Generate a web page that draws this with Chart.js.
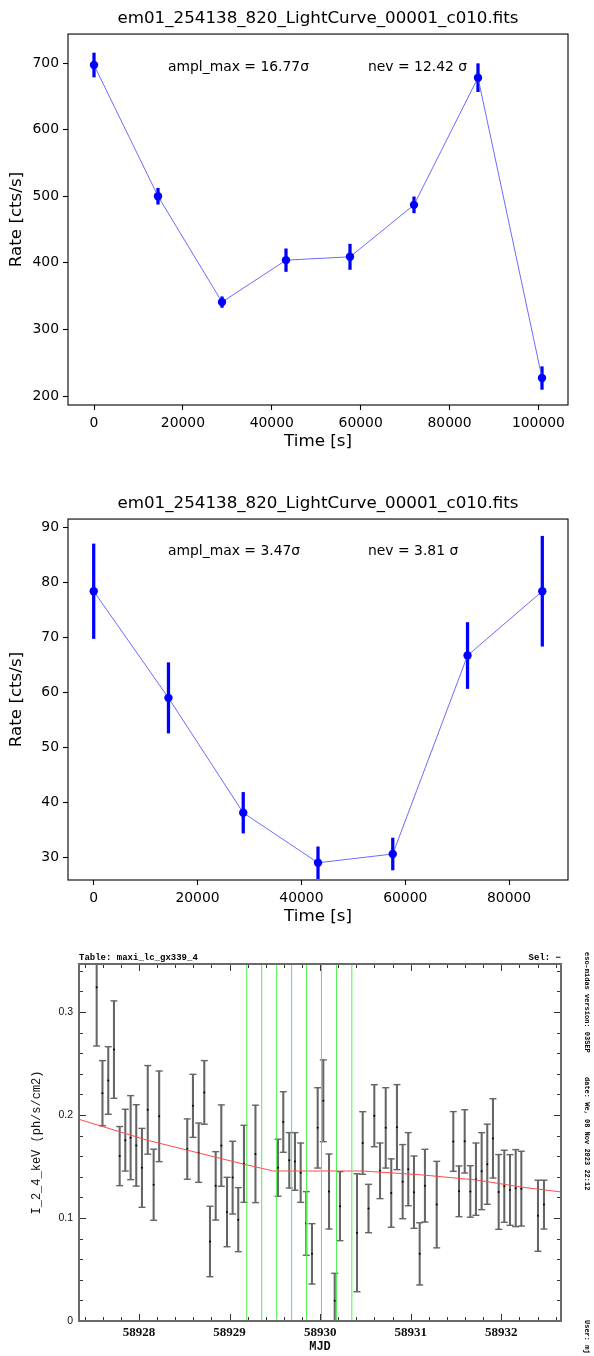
<!DOCTYPE html>
<html><head><meta charset="utf-8">
<script src="https://cdn.jsdelivr.net/npm/chart.js@4.4.1/dist/chart.umd.min.js"></script>
<style>
html,body{margin:0;padding:0;background:#fff}
body{width:594px;height:1356px;position:relative;overflow:hidden}
canvas{position:absolute;left:0}
</style></head><body>
<canvas id="c1" width="594" height="460" style="top:0px;width:594px;height:460px"></canvas>
<canvas id="c2" width="594" height="450" style="top:485px;width:594px;height:450px"></canvas>
<canvas id="c3" width="594" height="416" style="top:940px;width:594px;height:416px"></canvas>
<script>
// ---------------- data ----------------
const fitsTitle = 'em01_254138_820_LightCurve_00001_c010.fits';
const timeTop = [0, 14400, 28800, 43200, 57600, 72000, 86400, 100800];
const rateTop = [697, 500, 341, 404, 409, 487, 678, 227];
const errTop  = [18, 12, 8, 17, 19, 12, 21, 17];
const notesTop = ['ampl_max = 16.77\u03c3', 'nev = 12.42 \u03c3'];
const xTicksTop = [0, 20000, 40000, 60000, 80000, 100000];
const yTicksTop = [200, 300, 400, 500, 600, 700];

const timeMid = [0, 14400, 28800, 43200, 57600, 72000, 86400];
const rateMid = [78.4, 59.0, 38.1, 29.0, 30.6, 66.7, 78.4];
const errMid  = [8.6, 6.4, 3.7, 2.9, 2.9, 6.0, 10.0];
const notesMid = ['ampl_max = 3.47\u03c3', 'nev = 3.81 \u03c3'];
const xTicksMid = [0, 20000, 40000, 60000, 80000];
const yTicksMid = [30, 40, 50, 60, 70, 80, 90];

const mjd = [58927.533,58927.597,58927.661,58927.724,58927.787,58927.849,58927.908,58927.970,58928.033,58928.097,58928.162,58928.223,
  58928.533,58928.596,58928.659,58928.721,58928.784,58928.847,58928.909,58928.972,58929.034,58929.096,58929.159,58929.286,
  58929.535,58929.593,58929.659,58929.722,58929.785,58929.847,58929.910,58929.973,58930.035,58930.098,58930.161,58930.219,
  58930.407,58930.470,58930.534,58930.598,58930.661,58930.724,58930.785,58930.848,58930.911,58930.973,58931.036,58931.099,58931.157,
  58931.287,58931.470,58931.533,58931.596,58931.658,58931.720,58931.783,58931.845,58931.908,58931.971,58932.033,58932.096,58932.159,58932.221,
  58932.405,58932.471];
const flux = [0.324,0.2212,0.2335,0.2635,0.1601,0.1756,0.178,0.1705,0.1487,0.205,0.1323,0.1987,
  0.1669,0.2089,0.1634,0.2219,0.0772,0.1312,0.1703,0.1058,0.1392,0.0984,0.1526,0.1622,
  0.1488,0.1932,0.156,0.1549,0.144,0.0947,0.0652,0.1875,0.2138,0.1257,0.0197,0.1115,
  0.0857,0.1728,0.1092,0.1993,0.1458,0.1875,0.1242,0.1882,0.1353,0.1474,0.1251,0.0652,0.1314,
  0.113,0.1743,0.1259,0.1744,0.1258,0.1377,0.1455,0.1522,0.1773,0.1253,0.1308,0.1272,0.129,0.1285,
  0.1022,0.113];
const fluxErr = [0.057,0.0316,0.0328,0.0473,0.0287,0.030,0.0408,0.0395,0.0383,0.043,0.0345,0.044,
  0.0293,0.0306,0.0288,0.0309,0.0342,0.0332,0.0395,0.0337,0.0353,0.0311,0.0374,0.0473,
  0.0277,0.0294,0.0269,0.028,0.0288,0.0309,0.0293,0.039,0.0397,0.0364,0.0266,0.0335,
  0.0573,0.0304,0.0235,0.0301,0.027,0.039,0.0332,0.0413,0.036,0.0355,0.0351,0.0302,0.0353,
  0.042,0.029,0.0246,0.0307,0.025,0.0351,0.0374,0.0389,0.0385,0.0363,0.035,0.0343,0.0374,0.0363,
  0.0345,0.0237];
const trendMjd  = [58927.338, 58928.085, 58928.527, 58929.151, 58929.483, 58930.473, 58931.102, 58931.728, 58932.239, 58932.667];
const trendFlux = [0.1958, 0.1757, 0.1660, 0.1524, 0.1456, 0.1456, 0.1420, 0.1369, 0.1298, 0.1252];
const greenMjd  = [58929.190, 58929.355, 58929.520, 58929.685, 58929.850, 58930.015, 58930.180, 58930.350];
const xTicksBot = [58928, 58929, 58930, 58931, 58932];
const yTicksBot = [0, 0.1, 0.2, 0.3];

// ---------------- helpers ----------------
Chart.defaults.font.family = '"DejaVu Sans", sans-serif';
Chart.defaults.color = '#000';
Chart.defaults.animation = false;

const mplDeco = {
  id: 'mplDeco',
  afterDatasetsDraw(chart, args, opts) {
    const {ctx, chartArea: a} = chart;
    ctx.save();
    ctx.font = '13.9px "DejaVu Sans"';
    ctx.fillStyle = '#000';
    ctx.textBaseline = 'alphabetic';
    (opts.items || []).forEach(it => {
      ctx.fillText(it.text, a.left + it.fx * (a.right - a.left), a.bottom - it.fy * (a.bottom - a.top));
    });
    ctx.strokeStyle = '#000';
    ctx.lineWidth = 1.1;
    ctx.strokeRect(a.left, a.top, a.right - a.left, a.bottom - a.top);
    ctx.restore();
  }
};

function mplChart(id, t, r, e, o) {
  return new Chart(document.getElementById(id), {
    type: 'line',
    data: {
      datasets: [
        { type: 'line', data: t.map((x, i) => ({x: x, y: r[i]})), borderColor: '#6b6bff', borderWidth: 1,
          pointRadius: 4.2, pointBackgroundColor: '#0000ff', pointBorderColor: '#0000ff', pointBorderWidth: 0,
          tension: 0, order: 0 },
        { type: 'bar', data: t.map((x, i) => ({x: x, y: [r[i] - e[i], r[i] + e[i]]})),
          backgroundColor: '#0000ff', barThickness: 2.6, borderWidth: 0, order: 1 }
      ]
    },
    options: {
      responsive: false,
      animation: false,
      layout: { padding: { left: 0, right: 26, top: 0, bottom: 0 }, autoPadding: false },
      plugins: {
        legend: { display: false },
        tooltip: { enabled: false },
        title: { display: true, fullSize: false, text: fitsTitle, font: { size: 16.7, weight: 'normal' }, color: '#000',
                 padding: { top: 9, bottom: 5 } },
        mplDeco: { items: [{text: o.notes[0], fx: 0.2, fy: 0.9}, {text: o.notes[1], fx: 0.6, fy: 0.9}] }
      },
      scales: {
        x: {
          type: 'linear', min: o.xmin, max: o.xmax, offset: false,
          afterBuildTicks: s => { s.ticks = o.xTicks.map(v => ({value: v})); },
          afterFit: s => { s.height = o.xh; },
          ticks: { callback: v => String(v), font: { size: 13.9 }, color: '#000', padding: 5, maxRotation: 0, autoSkip: false },
          grid: { display: true, offset: false, drawOnChartArea: false, drawTicks: true, tickLength: 5, tickColor: '#000', tickWidth: 1.1 },
          border: { display: false },
          title: { display: true, text: 'Time [s]', font: { size: 16.7 }, color: '#000', padding: { top: 0, bottom: 8 } }
        },
        y: {
          type: 'linear', min: o.ymin, max: o.ymax,
          afterBuildTicks: s => { s.ticks = o.yTicks.map(v => ({value: v})); },
          afterFit: s => { s.width = 68; },
          ticks: { callback: v => String(v), font: { size: 13.9 }, color: '#000', padding: 4, autoSkip: false },
          grid: { display: true, offset: false, drawOnChartArea: false, drawTicks: true, tickLength: 5, tickColor: '#000', tickWidth: 1.1 },
          border: { display: false },
          title: { display: true, text: 'Rate [cts/s]', font: { size: 16.7 }, color: '#000', padding: { top: 7, bottom: 0 } }
        }
      }
    },
    plugins: [mplDeco]
  });
}

mplChart('c1', timeTop, rateTop, errTop, { xmin: -5850, xmax: 106650, ymin: 186.5, ymax: 743.5, xh: 55,
  xTicks: xTicksTop, yTicks: yTicksTop, notes: notesTop });
mplChart('c2', timeMid, rateMid, errMid, { xmin: -4950, xmax: 91350, ymin: 25.87, ymax: 91.53, xh: 55,
  xTicks: xTicksMid, yTicks: yTicksMid, notes: notesMid });

// ---------------- bottom (MIDAS) chart ----------------
const midasDeco = {
  id: 'midasDeco',
  afterDraw(chart) {
    const {ctx, chartArea: a, scales: {x, y}} = chart;
    ctx.save();
    ctx.strokeStyle = '#333';
    ctx.lineWidth = 1;
    for (let k = Math.ceil(x.min * 5); k <= Math.floor(x.max * 5); k++) {
      const px = Math.round(x.getPixelForValue(k / 5)) + 0.5;
      const len = (k % 5 === 0) ? 7 : 4;
      ctx.beginPath();
      ctx.moveTo(px, a.bottom); ctx.lineTo(px, a.bottom - len);
      ctx.moveTo(px, a.top); ctx.lineTo(px, a.top + len);
      ctx.stroke();
    }
    for (let k = Math.ceil(y.min * 50); k <= Math.floor(y.max * 50); k++) {
      const py = Math.round(y.getPixelForValue(k / 50)) + 0.5;
      const len = (k % 5 === 0) ? 7 : 4;
      ctx.beginPath();
      ctx.moveTo(a.left, py); ctx.lineTo(a.left + len, py);
      ctx.moveTo(a.right, py); ctx.lineTo(a.right - len, py);
      ctx.stroke();
    }
    ctx.strokeStyle = '#6a6a6a';
    ctx.lineWidth = 2;
    ctx.strokeRect(a.left, a.top, a.right - a.left, a.bottom - a.top);
    // header texts
    ctx.fillStyle = '#000';
    ctx.font = 'bold 9px "Liberation Mono"';
    ctx.textBaseline = 'alphabetic';
    ctx.textAlign = 'left';
    ctx.fillText('Table: maxi_lc_gx339_4', a.left, a.top - 4);
    ctx.textAlign = 'right';
    ctx.fillText('Sel: \u2212', a.right, a.top - 4);
    // side texts
    ctx.font = 'bold 7px "Liberation Mono"';
    ctx.textAlign = 'left';
    ctx.textBaseline = 'middle';
    [['eso-midas version: 03SEP', 12], ['date: We, 08 Nov 2023 22:12', 137], ['User: mj', 380]].forEach(([s, yy]) => {
      ctx.save();
      ctx.translate(587, yy);
      ctx.rotate(Math.PI / 2);
      ctx.fillText(s, 0, 0);
      ctx.restore();
    });
    ctx.restore();
  }
};

const yMinB = 0, yMaxB = 0.3466;
const greenData = [];
greenMjd.forEach(g => { greenData.push({x: g, y: yMinB}, {x: g, y: yMaxB}, {x: g, y: null}); });
const capData = [];
mjd.forEach((m, i) => { capData.push({x: m, y: flux[i] - fluxErr[i]}, {x: m, y: flux[i] + fluxErr[i]}); });

new Chart(document.getElementById('c3'), {
  type: 'line',
  data: {
    datasets: [
      { type: 'line', data: greenData, borderColor: '#4cf04c', borderWidth: 1, pointRadius: 0, spanGaps: false, order: 0 },
      { type: 'line', data: trendMjd.map((m, i) => ({x: m, y: trendFlux[i]})), borderColor: '#ff4a4a', borderWidth: 1,
        pointRadius: 0, tension: 0, order: 1 },
      { type: 'line', data: mjd.map((m, i) => ({x: m, y: flux[i]})), showLine: false, pointRadius: 1,
        pointBackgroundColor: '#000', pointBorderWidth: 0, order: 2 },
      { type: 'line', data: capData, showLine: false, pointStyle: 'line', pointRadius: 3.5,
        pointBorderColor: '#666', pointBorderWidth: 1.4, order: 3 },
      { type: 'bar', data: mjd.map((m, i) => ({x: m, y: [flux[i] - fluxErr[i], flux[i] + fluxErr[i]]})),
        backgroundColor: '#666', barThickness: 1.4, borderWidth: 0, order: 4 }
    ]
  },
  options: {
    responsive: false,
    animation: false,
    layout: { padding: { left: 0, right: 33, top: 24, bottom: 0 }, autoPadding: false },
    plugins: { legend: { display: false }, tooltip: { enabled: false } },
    scales: {
      x: {
        type: 'linear', min: 58927.338, max: 58932.659, offset: false,
        afterBuildTicks: s => { s.ticks = xTicksBot.map(v => ({value: v})); },
        afterFit: s => { s.height = 35; },
        ticks: { callback: v => String(v), font: { family: '"Liberation Serif"', size: 13, weight: 'bold' }, color: '#111',
                 padding: 4, maxRotation: 0, autoSkip: false },
        grid: { display: false, drawTicks: false, offset: false },
        border: { display: false },
        title: { display: true, text: 'MJD', font: { family: '"Liberation Mono"', size: 12, weight: 'bold' }, color: '#111',
                 padding: { top: 0, bottom: 2 } }
      },
      y: {
        type: 'linear', min: yMinB, max: yMaxB,
        afterBuildTicks: s => { s.ticks = yTicksBot.map(v => ({value: v})); },
        afterFit: s => { s.width = 79; },
        ticks: { callback: v => String(v), font: { family: '"Liberation Sans"', size: 10.5 }, color: '#111', padding: 6, autoSkip: false },
        grid: { display: false, drawTicks: false },
        border: { display: false },
        title: { display: true, text: 'I_2_4_keV (ph/s/cm2)', font: { family: '"Liberation Mono"', size: 12 }, color: '#111',
                 padding: { top: 30, bottom: 0 } }
      }
    }
  },
  plugins: [midasDeco]
});
</script>
</body></html>
